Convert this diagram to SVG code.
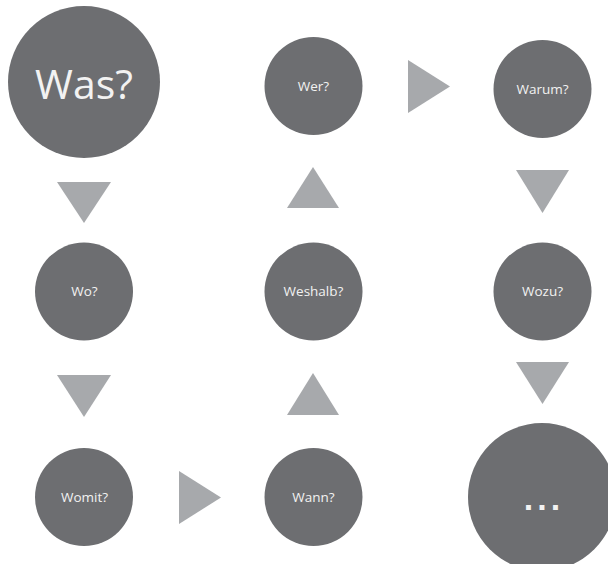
<svg xmlns="http://www.w3.org/2000/svg" width="608" height="564" viewBox="0 0 608 564">
<style>
.n{fill:#6d6e71}
.a{fill:#a7a9ac}
.t{fill:#f2f2f2;font-family:"Open Sans","Noto Sans","Liberation Sans",sans-serif;text-anchor:middle;font-size:13.5px}
.big{font-size:41px}
.dots{font-size:34px;font-weight:bold;letter-spacing:4px;font-family:"Liberation Sans",sans-serif}
</style>
<rect width="608" height="564" fill="#ffffff"/>
<g id="connectors">
<polygon class="a" points="57,182 111,182 84,223"/>
<polygon class="a" points="57,375 111,375 84,417"/>
<polygon class="a" points="179,471 221,497.5 179,524"/>
<polygon class="a" points="287,415 339,415 313,373"/>
<polygon class="a" points="287,208 339,208 313,167"/>
<polygon class="a" points="408,60 450,86.5 408,113"/>
<polygon class="a" points="516,170 569,170 542.5,213"/>
<polygon class="a" points="516,362 569,362 542.5,404"/>
</g>
<g id="was"><circle class="n" cx="84" cy="82" r="76"/><text class="t big" x="84" y="99">Was?</text></g>
<g id="wo"><circle class="n" cx="84" cy="291.5" r="49"/><text class="t" x="84.5" y="296">Wo?</text></g>
<g id="womit"><circle class="n" cx="84" cy="497" r="49"/><text class="t" x="84.5" y="502">Womit?</text></g>
<g id="wann"><circle class="n" cx="313.5" cy="497" r="49"/><text class="t" x="313.5" y="502">Wann?</text></g>
<g id="weshalb"><circle class="n" cx="313.5" cy="291.5" r="49"/><text class="t" x="313.5" y="296">Weshalb?</text></g>
<g id="wer"><circle class="n" cx="313.5" cy="86" r="49"/><text class="t" x="313.5" y="90.5">Wer?</text></g>
<g id="warum"><circle class="n" cx="542.5" cy="89" r="49"/><text class="t" x="542.5" y="93.5">Warum?</text></g>
<g id="wozu"><circle class="n" cx="542.5" cy="291.5" r="49"/><text class="t" x="542.5" y="296">Wozu?</text></g>
<g id="more"><circle class="n" cx="542" cy="497" r="74"/><text class="t dots" x="544" y="509.5">...</text></g>
</svg>
